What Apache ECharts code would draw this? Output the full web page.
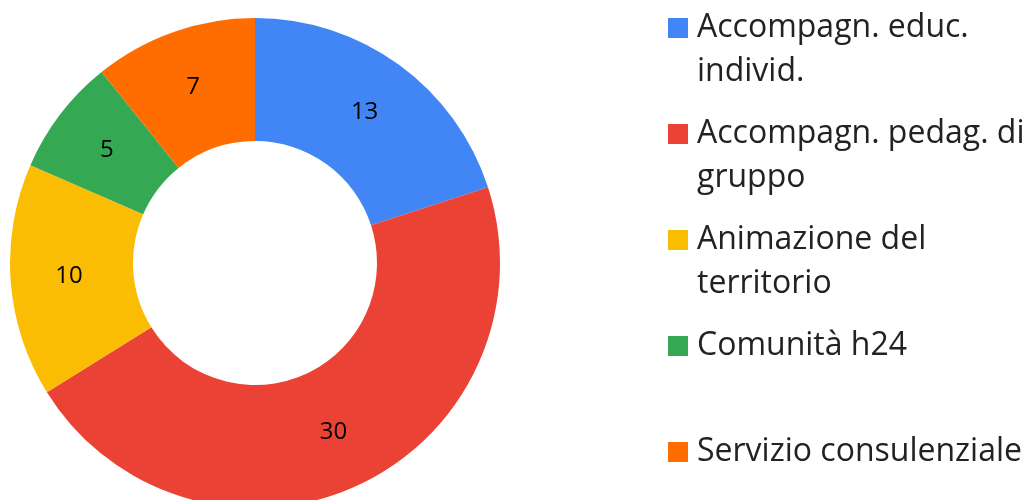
<!DOCTYPE html>
<html>
<head>
<meta charset="utf-8">
<script src="https://cdn.jsdelivr.net/npm/echarts@6/dist/echarts.min.js"></script>
<style>
  html, body { margin: 0; padding: 0; background: #fff; }
  #chart { width: 1036px; height: 500px; }
</style>
</head>
<body>
<div id="chart"></div>
<script>
// categories + values
const categories = [
  'Accompagn. educ. individ.',
  'Accompagn. pedag. di gruppo',
  'Animazione del territorio',
  'Comunità h24',
  'Servizio consulenziale'
];
const values = [13, 30, 10, 5, 7];
const colors = ['#4285F4', '#EA4335', '#FBBC04', '#34A853', '#FF6D01'];

// how each legend entry wraps (leading blank line keeps the icon on line 1)
const legendLines = {
  'Accompagn. educ. individ.': ['Accompagn. educ.', 'individ.'],
  'Accompagn. pedag. di gruppo': ['Accompagn. pedag. di', 'gruppo'],
  'Animazione del territorio': ['Animazione del', 'territorio'],
  'Comunità h24': ['Comunità h24', ' '],
  'Servizio consulenziale': ['Servizio consulenziale', ' ']
};

const chart = echarts.init(document.getElementById('chart'), null, { renderer: 'canvas' });

const option = {
  backgroundColor: '#ffffff',
  color: colors,
  animation: false,
  legend: {
    orient: 'vertical',
    left: 668,
    top: -38,
    height: 700,
    width: 400,
    padding: 0,
    itemWidth: 20,
    itemHeight: 20,
    itemGap: -26,
    icon: 'rect',
    selectedMode: false,
    formatter: function (name) {
      return '\n' + legendLines[name].join('\n');
    },
    textStyle: {
      fontFamily: 'Open Sans',
      fontSize: 32,
      lineHeight: 44,
      color: '#222222',
      padding: [0, 0, 0, 4]
    },
    data: categories
  },
  series: [{
    type: 'pie',
    center: [255, 263],
    radius: [122, 245],
    startAngle: 90,
    clockwise: true,
    avoidLabelOverlap: false,
    label: {
      show: true,
      position: 'inside',
      formatter: '{c}',
      color: '#000000',
      fontFamily: 'Open Sans',
      fontSize: 24,
      padding: [4, 0, 0, 0]
    },
    labelLine: { show: false },
    emphasis: { disabled: true },
    data: categories.map(function (name, i) {
      return { name: name, value: values[i] };
    })
  }]
};

chart.setOption(option);
</script>
</body>
</html>
